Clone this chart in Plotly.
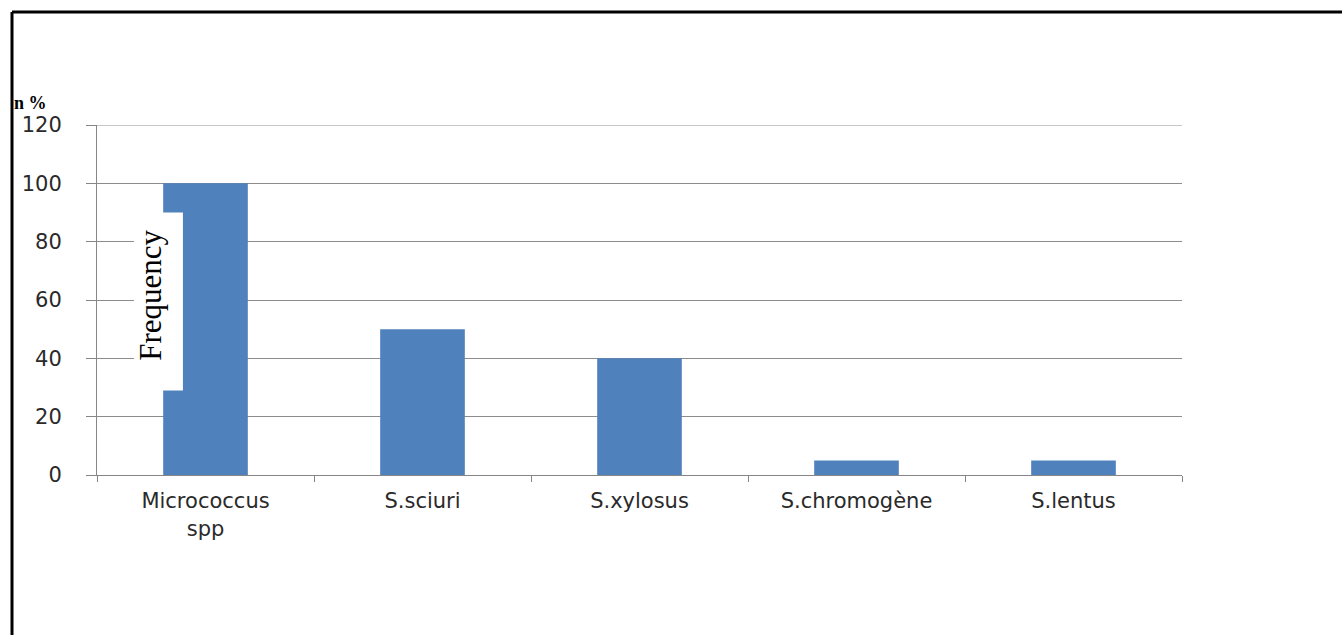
import plotly.graph_objects as go

categories = ["Micrococcus<br>spp", "S.sciuri", "S.xylosus", "S.chromogène", "S.lentus"]
values = [100, 50, 40, 5, 5]
y_ticks = [0, 20, 40, 60, 80, 100, 120]

fig = go.Figure()
fig.add_trace(go.Bar(x=categories, y=values, marker=dict(color="#4f81bd", line=dict(width=0)),
                     hoverinfo="skip"))

fig.update_layout(
    width=1342, height=635,
    margin=dict(l=97, r=160, t=125, b=160),
    paper_bgcolor="white", plot_bgcolor="white",
    bargap=0.61,
    showlegend=False,
    font=dict(family="DejaVu Sans", size=18, color="#2a2a2a"),
)
fig.update_xaxes(
    type="category", tickson="boundaries", ticks="outside", ticklen=6, tickcolor="#868686",
    showline=True, linecolor="#868686", linewidth=1, showgrid=False,
    tickfont=dict(family="DejaVu Sans", size=21, color="#2a2a2a"), ticklabelstandoff=7,
)
fig.update_yaxes(
    range=[0, 120], tickvals=y_ticks, ticks="outside", ticklen=10, tickcolor="#868686",
    showline=True, linecolor="#868686", linewidth=1,
    showgrid=True, gridcolor="#8c8c8c", gridwidth=1, zeroline=False,
    tickfont=dict(family="DejaVu Sans", size=21, color="#2a2a2a"), ticklabelstandoff=20,
)

# top gridline at 120
fig.add_shape(type="line", xref="paper", yref="y", x0=0, x1=1, y0=120, y1=120,
              line=dict(color="#b4b4b4", width=1.5), layer="below")

# White box with "Frequency" label overlapping first bar
fig.add_shape(type="rect", xref="x", yref="y", x0=-0.33, x1=-0.104, y0=29, y1=90,
              fillcolor="white", line=dict(width=0), layer="above")
fig.add_annotation(x=-0.255, y=61.5, xref="x", yref="y", text="Frequency", textangle=-90,
                   showarrow=False, font=dict(family="Liberation Serif", size=31, color="black"))
fig.add_annotation(x=(12 - 97) / 1085, y=1 + (125 - 103) / 350, xref="paper", yref="paper",
                   text="<b>n %</b>", showarrow=False, xanchor="left", yanchor="middle",
                   font=dict(family="Liberation Serif", size=18, color="black"))

# frame lines
fx0 = (12 - 97) / 1085
fy_top = 1 + (125 - 12) / 350
fig.add_shape(type="line", xref="paper", yref="paper", x0=fx0, x1=(1345 - 97) / 1085,
              y0=fy_top, y1=fy_top, line=dict(color="black", width=3))
fig.add_shape(type="line", xref="paper", yref="paper", x0=fx0, x1=fx0,
              y0=fy_top, y1=(475 - 640) / 350, line=dict(color="black", width=3))

fig.write_html("out.html")
